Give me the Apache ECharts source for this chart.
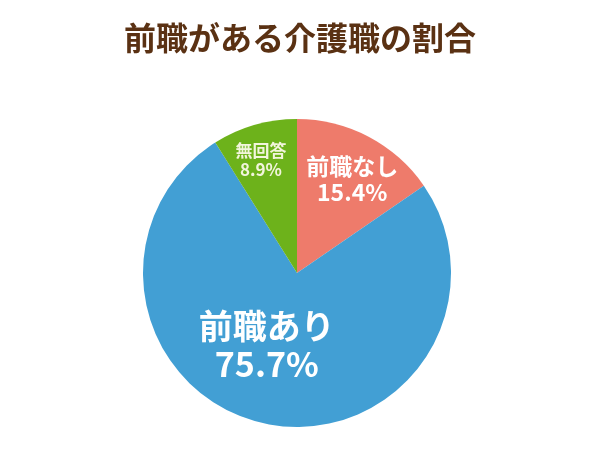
<!DOCTYPE html>
<html><head><meta charset="utf-8">
<script src="https://cdn.jsdelivr.net/npm/echarts@6/dist/echarts.min.js"></script>
<style>html,body{margin:0;padding:0;background:#fff}#c{width:600px;height:450px}</style>
</head><body><div id="c"></div>
<script>
const titleText = '前職がある介護職の割合';
const categories = ['前職なし', '前職あり', '無回答'];
const values = [15.4, 75.7, 8.9];
const colors = ['#EE7B6B', '#429FD4', '#6DB21B'];
const labelSizes = [23, 34, 17];
const labelColors = ['#ffffff', '#ffffff', '#F2F5DC'];
const labelShift = [[18, -23], [-14, -6], [-14, -36]];

const chart = echarts.init(document.getElementById('c'), null, {renderer: 'canvas'});
const data = categories.map((n, i) => ({
  name: n, value: values[i],
  itemStyle: {color: colors[i]},
  label: {fontSize: labelSizes[i], lineHeight: Math.round(labelSizes[i] * 1.12), color: labelColors[i]}
}));
chart.setOption({
  backgroundColor: '#ffffff',
  title: {
    text: titleText, left: 'center', top: 17,
    textStyle: {fontFamily: '"Noto Sans CJK JP"', fontWeight: 'bold', fontSize: 32, color: '#5A3113'}
  },
  series: [{
    type: 'pie',
    center: [297, 273],
    radius: [0, 154],
    startAngle: 90,
    clockwise: true,
    silent: true,
    animation: false,
    label: {
      show: true, position: 'inside',
      formatter: p => p.name + '\n' + p.value + '%',
      fontFamily: '"Noto Sans CJK JP"', fontWeight: 'bold', align: 'center'
    },
    labelLine: {show: false},
    labelLayout: p => ({dx: labelShift[p.dataIndex][0], dy: labelShift[p.dataIndex][1]}),
    data: data
  }]
});
</script></body></html>
